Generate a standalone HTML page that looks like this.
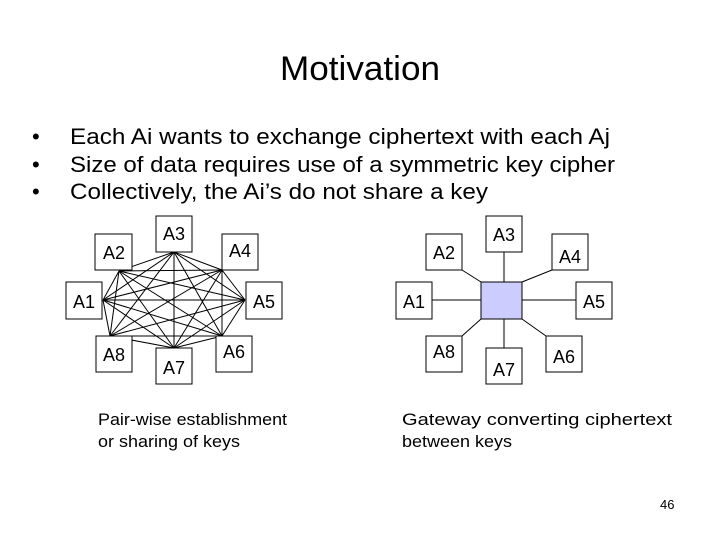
<!DOCTYPE html>
<html><head><style>body{margin:0;background:#fff}svg{display:block}text{font-family:"Liberation Sans",Arial,sans-serif;fill:#000}</style></head><body>
<svg width="720" height="540" xmlns="http://www.w3.org/2000/svg">
<text x="280" y="80" font-size="34" textLength="160" lengthAdjust="spacingAndGlyphs">Motivation</text>
<g font-size="22">
<text x="32" y="144">•</text><text x="70" y="144" textLength="540" lengthAdjust="spacingAndGlyphs">Each Ai wants to exchange ciphertext with each Aj</text>
<text x="32" y="172">•</text><text x="70" y="172" textLength="545" lengthAdjust="spacingAndGlyphs">Size of data requires use of a symmetric key cipher</text>
<text x="32" y="199">•</text><text x="70" y="199" textLength="418" lengthAdjust="spacingAndGlyphs">Collectively, the Ai’s do not share a key</text>
</g>
<g stroke="#000" stroke-width="1">
<line x1="119" y1="271" x2="174" y2="252"/><line x1="119" y1="271" x2="222" y2="270"/><line x1="119" y1="271" x2="103" y2="300"/><line x1="119" y1="271" x2="245" y2="300"/><line x1="119" y1="271" x2="110" y2="336"/><line x1="119" y1="271" x2="174" y2="348"/><line x1="119" y1="271" x2="222" y2="336"/>
<line x1="174" y1="252" x2="222" y2="270"/><line x1="174" y1="252" x2="103" y2="300"/><line x1="174" y1="252" x2="245" y2="300"/><line x1="174" y1="252" x2="110" y2="336"/><line x1="174" y1="252" x2="174" y2="348"/><line x1="174" y1="252" x2="222" y2="336"/>
<line x1="222" y1="270" x2="103" y2="300"/><line x1="222" y1="270" x2="245" y2="300"/><line x1="222" y1="270" x2="110" y2="336"/><line x1="222" y1="270" x2="174" y2="348"/><line x1="222" y1="270" x2="222" y2="336"/>
<line x1="103" y1="300" x2="245" y2="300"/><line x1="103" y1="300" x2="110" y2="336"/><line x1="103" y1="300" x2="174" y2="348"/><line x1="103" y1="300" x2="222" y2="336"/>
<line x1="245" y1="300" x2="110" y2="336"/><line x1="245" y1="300" x2="174" y2="348"/><line x1="245" y1="300" x2="222" y2="336"/>
<line x1="110" y1="336" x2="174" y2="348"/><line x1="110" y1="336" x2="222" y2="336"/>
<line x1="174" y1="348" x2="222" y2="336"/>
<line x1="462" y1="270" x2="481" y2="282"/><line x1="504" y1="252" x2="504" y2="282"/><line x1="552" y1="270" x2="522" y2="282"/>
<line x1="432" y1="300" x2="481" y2="300"/><line x1="522" y1="300" x2="576" y2="300"/>
<line x1="462" y1="336" x2="481" y2="319"/><line x1="504" y1="319" x2="504" y2="348"/><line x1="546" y1="336" x2="522" y2="319"/>
</g>
<rect x="481" y="282" width="41" height="37" fill="#ccccff" stroke="#000"/>
<g fill="#fff" stroke="#000">
<rect x="95" y="234" width="37" height="36"/><rect x="156" y="216" width="36" height="36"/><rect x="222" y="234" width="36" height="36"/>
<rect x="66" y="282" width="36" height="37"/><rect x="246" y="282" width="36" height="37"/>
<rect x="96" y="336" width="36" height="36"/><rect x="156" y="348" width="36" height="36"/><rect x="216" y="336" width="36" height="36"/>
<rect x="426" y="234" width="36" height="36"/><rect x="486" y="216" width="36" height="36"/><rect x="552" y="234" width="36" height="36"/>
<rect x="396" y="282" width="36" height="37"/><rect x="576" y="282" width="36" height="37"/>
<rect x="426" y="336" width="36" height="36"/><rect x="486" y="348" width="36" height="36"/><rect x="546" y="336" width="36" height="36"/>
</g>
<g font-size="18" text-anchor="middle">
<text x="114" y="259">A2</text><text x="174" y="240">A3</text><text x="240" y="257">A4</text>
<text x="84" y="308">A1</text><text x="264" y="308">A5</text>
<text x="114" y="361">A8</text><text x="174" y="374">A7</text><text x="234" y="358">A6</text>
<text x="444" y="259">A2</text><text x="504" y="241">A3</text><text x="570" y="263">A4</text>
<text x="414" y="308">A1</text><text x="594" y="308">A5</text>
<text x="444" y="358">A8</text><text x="504" y="376">A7</text><text x="564" y="363">A6</text>
</g>
<g font-size="17">
<text x="98" y="425" textLength="189" lengthAdjust="spacingAndGlyphs">Pair-wise establishment</text><text x="98" y="447" textLength="142" lengthAdjust="spacingAndGlyphs">or sharing of keys</text>
<text x="402" y="425" textLength="270" lengthAdjust="spacingAndGlyphs">Gateway converting ciphertext</text><text x="402" y="447" textLength="110" lengthAdjust="spacingAndGlyphs">between keys</text>
</g>
<text x="660" y="509" font-size="13">46</text>
</svg>
</body></html>
